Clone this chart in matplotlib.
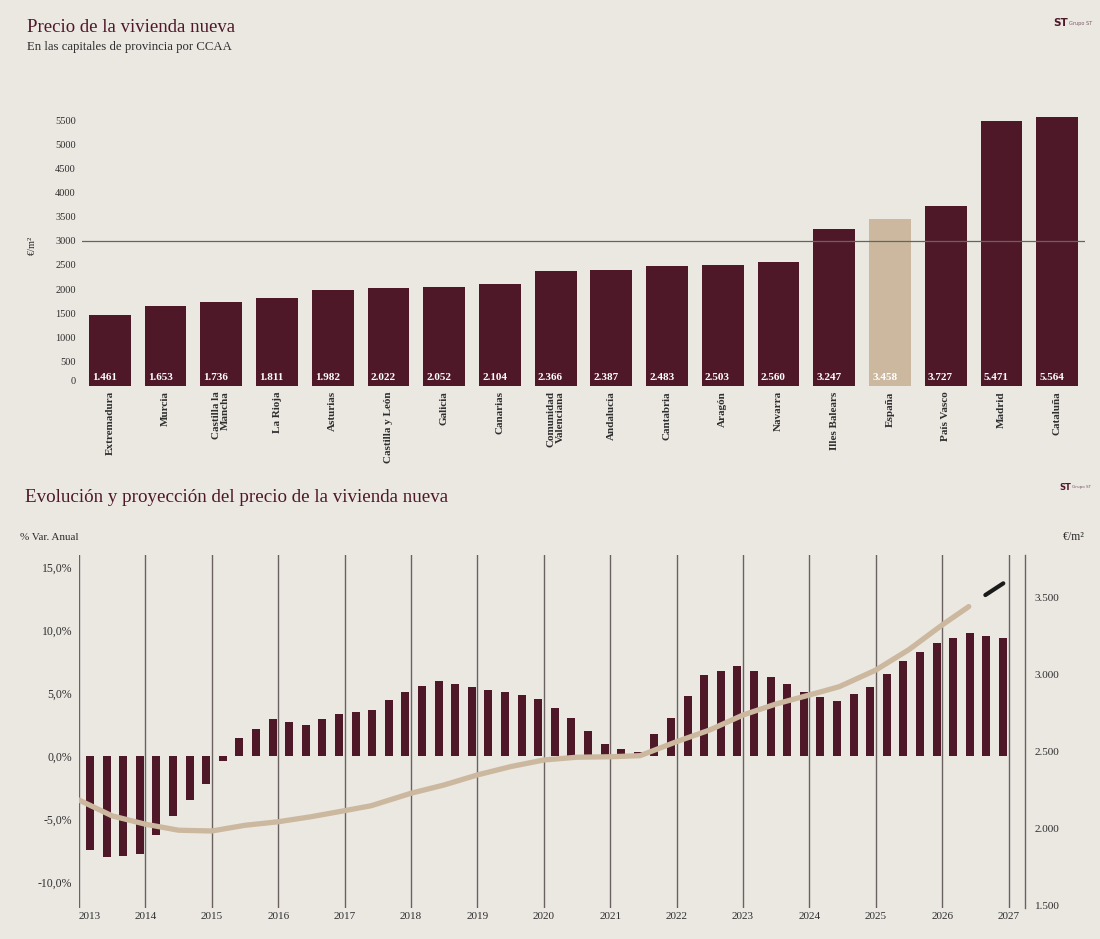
import numpy as np
import matplotlib
matplotlib.use("Agg")
import matplotlib.pyplot as plt

plt.rcParams['font.family'] = ['Liberation Serif', 'DejaVu Serif']

# --- data: precio por CCAA (€/m2)
regiones = ['Extremadura', 'Murcia', 'Castilla la\nMancha', 'La Rioja', 'Asturias',
            'Castilla y León', 'Galicia', 'Canarias', 'Comunidad\nValenciana', 'Andalucía',
            'Cantabria', 'Aragón', 'Navarra', 'Illes Balears', 'España', 'País Vasco',
            'Madrid', 'Cataluña']
precios = [1461, 1653, 1736, 1811, 1982, 2022, 2052, 2104, 2366, 2387,
           2483, 2503, 2560, 3247, 3458, 3727, 5471, 5564]
precio_ticks = list(range(0, 5501, 500))
nivel_ref = 3000

# --- data: evolución (variación anual trimestral, %)
years = list(range(2013, 2028))
var_anual = [-7.46, -7.99, -7.94, -7.75,
             -6.27, -4.74, -3.49, -2.22,
             -0.37, 1.43, 2.14, 2.94,
             2.70, 2.46, 2.94, 3.33,
             3.49, 3.65, 4.44, 5.08,
             5.56, 5.95, 5.71, 5.48,
             5.24, 5.08, 4.84, 4.52,
             3.78, 2.99, 1.96, 0.93,
             0.58, 0.34, 1.72, 2.99,
             4.74, 6.40, 6.72, 7.12,
             6.72, 6.30, 5.69, 5.05,
             4.66, 4.34, 4.89, 5.45,
             6.48, 7.51, 8.23, 8.94,
             9.34, 9.74, 9.50, 9.34]
var_ticks = [-10, -5, 0, 5, 10, 15]

# precio €/m2 (eje derecho)
precio_fechas = [2013.0, 2013.5, 2014.0, 2014.5, 2015.0, 2015.5, 2016.0, 2016.5,
                 2017.0, 2017.4, 2018.0, 2018.5, 2019.0, 2019.5, 2020.0, 2020.5,
                 2021.0, 2021.45, 2022.0, 2022.5, 2023.0, 2023.5, 2024.0, 2024.45,
                 2025.0, 2025.5, 2026.0, 2026.4]
precio_m2 = [2188, 2085, 2031, 1992, 1987, 2024, 2047, 2080,
             2119, 2151, 2232, 2286, 2351, 2405, 2448, 2466,
             2469, 2476, 2567, 2643, 2740, 2812, 2870, 2924,
             3032, 3165, 3325, 3444]
proy_fechas = [2026.65, 2026.92]
proy_m2 = [3519, 3595]
m2_ticks = [1500, 2000, 2500, 3000, 3500]

bg = '#ebe8e2'
granate = '#4e1829'
beige = '#cbb89f'
gris = '#6b6160'
texto = '#2e2e2e'

W, H = 1100, 939
fig = plt.figure(figsize=(11, 9.39), dpi=100, facecolor=bg)

def box(l, t, r, b):
    return [l / W, 1 - b / H, (r - l) / W, (b - t) / H]

# ---------------- top chart
ax = fig.add_axes(box(82, 110, 1085, 385.7))
ax.set_facecolor('none')
colores = [beige if r == 'España' else granate for r in regiones]
x = np.arange(len(regiones))
ax.bar(x, precios, width=0.75, color=colores, zorder=2)
ax.axhline(nivel_ref, color=gris, lw=0.9, zorder=3)
for i, v in enumerate(precios):
    ax.annotate('{:,}'.format(v).replace(',', '.'), xy=(i - 0.375, 0), xytext=(2.2, 3),
                textcoords='offset points', ha='left', va='bottom', color='white',
                fontsize=8, fontweight='bold', zorder=4)
ax.set_xlim(-0.5, len(regiones) - 0.5)
ax.set_ylim(0, 5708)
ax.set_yticks(precio_ticks)
ax.set_yticklabels([str(t) for t in precio_ticks])
ax.set_xticks(x)
ax.set_xticklabels(regiones, rotation=90, ha='center', va='top', fontweight='bold',
                   fontsize=8, color=texto, linespacing=1.0)
for lab in ax.get_xticklabels():
    lab.set_multialignment('right')
ax.tick_params(axis='y', length=0, pad=4.5, labelsize=7.5, labelcolor=texto)
ax.tick_params(axis='x', length=0, pad=4)
ax.get_yticklabels()[0].set_va('bottom')
for s in ax.spines.values():
    s.set_visible(False)

fig.text(32 / W, 1 - 245 / H, '€/m²', rotation=90, ha='center', va='center',
         fontsize=7.5, color=texto)
fig.text(27 / W, 1 - 27 / H, 'Precio de la vivienda nueva', fontsize=13.5,
         color=granate, va='center', ha='left')
fig.text(27 / W, 1 - 47 / H, 'En las capitales de provincia por CCAA', fontsize=9.2,
         color=texto, va='center', ha='left')

# logos
fig.text(1061 / W, 1 - 23 / H, 'ST', fontsize=7.5, fontweight='bold', color=granate,
         ha='center', va='center', family='DejaVu Sans')
fig.text(1069 / W, 1 - 23 / H, 'Grupo ST', fontsize=3.6, color='#7a5a63',
         ha='left', va='center', family='DejaVu Sans')
fig.text(1065 / W, 1 - 487 / H, 'ST', fontsize=6, fontweight='bold', color=granate,
         ha='center', va='center', family='DejaVu Sans')
fig.text(1072 / W, 1 - 487 / H, 'Grupo ST', fontsize=3, color='#7a5a63',
         ha='left', va='center', family='DejaVu Sans')

# ---------------- bottom chart
bx = fig.add_axes(box(79, 555, 1025, 908))
bx.set_facecolor('none')
fechas_q = 2013 + 2 / 12 + 0.25 * np.arange(len(var_anual))
bx.bar(fechas_q, var_anual, width=0.12, color=granate, zorder=2)
for y in years:
    bx.axvline(y, color=gris, lw=1, zorder=1)
bx.set_xlim(2013, 2027.247)
bx.set_ylim(-12.06, 15.95)
bx.set_yticks(var_ticks)
bx.set_yticklabels([('%.1f%%' % t).replace('.', ',') for t in var_ticks])
bx.set_xticks(years)
bx.set_xticklabels([str(y) for y in years])
bx.get_xticklabels()[0].set_ha('left')
bx.tick_params(axis='y', length=0, pad=5, labelsize=8.5, labelcolor=texto)
bx.tick_params(axis='x', length=0, pad=3, labelsize=8, labelcolor=texto)
for s in bx.spines.values():
    s.set_visible(False)

bx2 = bx.twinx()
bx2.plot(precio_fechas, precio_m2, color=beige, lw=3.8, solid_capstyle='round',
         solid_joinstyle='round', zorder=3)
bx2.plot(proy_fechas, proy_m2, color='#1a1a1a', lw=3, solid_capstyle='round', zorder=3)
bx2.set_ylim(1487, 3779)
bx2.set_yticks(m2_ticks)
bx2.set_yticklabels(['{:,}'.format(t).replace(',', '.') for t in m2_ticks])
bx2.tick_params(axis='y', length=0, pad=7, labelsize=8, labelcolor=texto)
for k, s in bx2.spines.items():
    s.set_visible(k == 'right')
bx2.spines['right'].set_color(gris)
bx2.spines['right'].set_linewidth(1)

fig.text(25 / W, 1 - 498 / H, 'Evolución y proyección del precio de la vivienda nueva',
         fontsize=13.7, color=granate, va='center', ha='left')
fig.text(20 / W, 1 - 537 / H, '% Var. Anual', fontsize=8, color=texto, va='center',
         ha='left')
fig.text(1085 / W, 1 - 537 / H, '€/m²', fontsize=8.5, color=texto, va='center',
         ha='right')

fig.savefig('out.png', dpi=100, facecolor=bg)
